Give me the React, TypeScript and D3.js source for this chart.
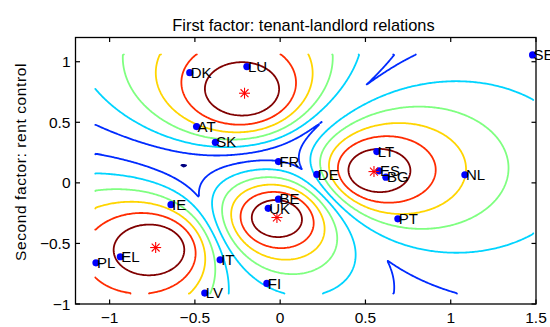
import React, { useMemo } from "react";
import * as d3 from "d3";

// Country scores on the two factors
const countries = ["DK","LU","AT","SK","FR","SE","LT","DE","ES","BG","NL","PT","IE","BE","UK","PL","EL","IT","LV","FI"];
const tenantLandlord = [-0.53,-0.195,-0.49,-0.38,-0.01,1.48,0.567,0.215,0.58,0.62,1.083,0.69,-0.64,-0.01,-0.07,-1.08,-0.937,-0.352,-0.442,-0.078];
const rentControl = [0.91,0.96,0.465,0.335,0.176,1.056,0.258,0.07,0.099,0.047,0.066,-0.297,-0.18,-0.135,-0.21,-0.66,-0.61,-0.635,-0.91,-0.83];

// Cluster centres (red stars)
const centerX = [-0.209, 0.55, -0.019, -0.73];
const centerY = [0.74, 0.093, -0.286, -0.534];

// Contour levels of the maximum fuzzy membership
const membershipLevels = [0.3, 0.4, 0.5, 0.6, 0.7, 0.8, 0.9];
const fuzzifier = 2;

const xTicks = [-1, -0.5, 0, 0.5, 1, 1.5];
const yTicks = [-1, -0.5, 0, 0.5, 1];

const W = 550, H = 327;
const left = 75.5, right = 536, top = 37.5, bottom = 304;
const FONT = "'Liberation Sans', Arial, Helvetica, sans-serif";

function jet(t: number) {
  const c = (v: number) => Math.max(0, Math.min(1, v));
  const r = c(1.5 - Math.abs(4 * t - 3));
  const g = c(1.5 - Math.abs(4 * t - 2));
  const b = c(1.5 - Math.abs(4 * t - 1));
  return d3.rgb(r * 255, g * 255, b * 255).formatHex();
}

function maxMembership(x: number, y: number) {
  const e = 1 / (fuzzifier - 1);
  let sum = 0, best = 0;
  for (let k = 0; k < centerX.length; k++) {
    const d2 = (x - centerX[k]) ** 2 + (y - centerY[k]) ** 2;
    if (d2 < 1e-14) return 1;
    const inv = Math.pow(d2, -e);
    sum += inv;
    if (inv > best) best = inv;
  }
  return best / sum;
}

function ringToLines(ring: number[][], nx: number, ny: number) {
  const onB = (p: number[]) => p[0] <= 0 || p[0] >= nx || p[1] <= 0 || p[1] >= ny;
  const pts = ring.slice(0, -1);
  const n = pts.length;
  const s = pts.findIndex(onB);
  if (s < 0) return [ring];
  const lines: number[][][] = [];
  let cur: number[][] = [pts[s]];
  let interior = 0;
  for (let k = 1; k <= n; k++) {
    const p = pts[(s + k) % n];
    if (onB(p)) {
      if (interior > 0) { cur.push(p); lines.push(cur); }
      cur = [p]; interior = 0;
    } else { cur.push(p); interior++; }
  }
  return lines;
}

export default function App() {
  const x = d3.scaleLinear().domain([-1.2, 1.5]).range([left, right]);
  const y = d3.scaleLinear().domain([-1, 1.2]).range([bottom, top]);

  const paths = useMemo(() => {
    const [x0, x1] = d3.extent(tenantLandlord) as [number, number];
    const [y0, y1] = d3.extent(rentControl) as [number, number];
    const nx = 330, ny = 260;
    const sx = (x1 - x0) / (nx - 1), sy = (y1 - y0) / (ny - 1);
    const values = new Array(nx * ny);
    for (let j = 0; j < ny; j++)
      for (let i = 0; i < nx; i++)
        values[j * nx + i] = maxMembership(x0 + i * sx, y0 + j * sy);
    const cs = d3.contours().size([nx, ny]).thresholds(membershipLevels)(values);
    const line = d3.line<number[]>()
      .x((p) => x(x0 + (p[0] - 0.5) * sx))
      .y((p) => y(y0 + (p[1] - 0.5) * sy));
    const lo = membershipLevels[0], hi = membershipLevels[membershipLevels.length - 1];
    const out: { d: string; color: string }[] = [];
    cs.forEach((c) => {
      const color = jet((c.value - lo) / (hi - lo));
      c.coordinates.forEach((poly) =>
        poly.forEach((ring) =>
          ringToLines(ring as number[][], nx, ny).forEach((l) => {
            const d = line(l);
            if (d) out.push({ d, color });
          })
        )
      );
    });
    return out;
  }, []);

  const tick = 4.5;
  const starR = 5.5;
  const diag = starR * 0.72;

  return (
    <svg width={W} height={H} style={{ position: "absolute", left: 0, top: 0, background: "#fff" }} fontFamily={FONT}>
      <rect x={0} y={0} width={W} height={H} fill="#fff" />
      <g fill="none" strokeWidth={1.8} strokeLinejoin="round" strokeLinecap="round">
        {paths.map((p, i) => (
          <path key={i} d={p.d} stroke={p.color} />
        ))}
      </g>
      {/* axes box */}
      <rect x={left} y={top} width={right - left} height={bottom - top} fill="none" stroke="#000" strokeWidth={1.3} />
      {xTicks.map((t) => (
        <g key={"xt" + t}>
          <line x1={x(t)} x2={x(t)} y1={bottom} y2={bottom - tick} stroke="#000" strokeWidth={1.2} />
          <line x1={x(t)} x2={x(t)} y1={top} y2={top + tick} stroke="#000" strokeWidth={1.2} />
          <text x={x(t)} y={323} textAnchor="middle" fontSize={15.5}>
            {String(t).replace("-", "\u2212")}
          </text>
        </g>
      ))}
      {yTicks.map((t) => (
        <g key={"yt" + t}>
          <line x1={left} x2={left + tick} y1={y(t)} y2={y(t)} stroke="#000" strokeWidth={1.2} />
          <line x1={right} x2={right - tick} y1={y(t)} y2={y(t)} stroke="#000" strokeWidth={1.2} />
          <text x={70.5} y={y(t) + 5.5} textAnchor="end" fontSize={15.5}>
            {String(t).replace("-", "\u2212")}
          </text>
        </g>
      ))}
      {/* points */}
      {countries.map((c, i) => (
        <circle key={"p" + c} cx={x(tenantLandlord[i])} cy={y(rentControl[i])} r={3.6} fill="#0000ff" />
      ))}
      {/* cluster centres */}
      {centerX.map((cx, k) => {
        const px = x(cx), py = y(centerY[k]);
        return (
          <g key={"s" + k} stroke="#ff0000" strokeWidth={1.1}>
            <line x1={px - starR} x2={px + starR} y1={py} y2={py} />
            <line x1={px} x2={px} y1={py - starR} y2={py + starR} />
            <line x1={px - diag} x2={px + diag} y1={py - diag} y2={py + diag} />
            <line x1={px - diag} x2={px + diag} y1={py + diag} y2={py - diag} />
          </g>
        );
      })}
      {countries.map((c, i) => (
        <text key={"l" + c} x={x(tenantLandlord[i]) + 1} y={y(rentControl[i]) + 5.2} fontSize={15} fill="#000">
          {c}
        </text>
      ))}
      <text x={(172 + 435) / 2} y={31} textAnchor="middle" fontSize={16.4}>
        First factor: tenant-landlord relations
      </text>
      <text transform="translate(26,162) rotate(-90)" textAnchor="middle" fontSize={15.5} letterSpacing={0.6}>
        Second factor: rent control
      </text>
    </svg>
  );
}
